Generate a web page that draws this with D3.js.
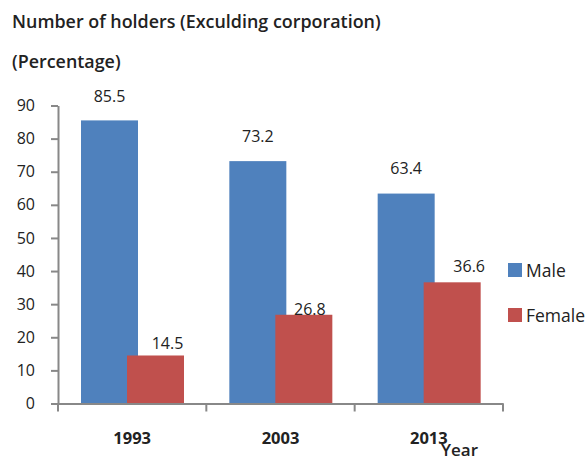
<!DOCTYPE html>
<html>
<head>
<meta charset="utf-8">
<script src="https://cdnjs.cloudflare.com/ajax/libs/d3/7.8.5/d3.min.js"></script>
<style>
  body { margin: 0; background: #fff; }
  svg text { font-family: "Open Sans", "Noto Sans", sans-serif; fill: #222; }
</style>
</head>
<body>
<svg id="canvas"></svg>
<script>
const years = ["1993", "2003", "2013"];
const seriesNames = ["Male", "Female"];
const male = [85.5, 73.2, 63.4];
const female = [14.5, 26.8, 36.6];
const yTicks = [0, 10, 20, 30, 40, 50, 60, 70, 80, 90];
const colors = ["#4F81BD", "#C0504D"];

// hand-placed label nudges (dx, dy above bar top) like the original
const labelNudge = {
  Male: [[0, 18], [0, 19], [0, 20]],
  Female: [[12, 6], [6, 0], [17, 10]],
};

const WIDTH = 587;
const HEIGHT = 457;
const PLOT_L = 58, PLOT_R = 503, PLOT_T = 105.5, PLOT_B = 403.5;
const BAR_W = 57;

const canvas = d3.select("#canvas").attr("width", WIDTH).attr("height", HEIGHT);

const xScale = d3.scaleBand().domain(years).range([PLOT_L, PLOT_R]).padding(0);
const inner = d3.scalePoint().domain(seriesNames).range([51.5, 97.5]);
const yScale = d3.scaleLinear().domain([0, 90]).range([PLOT_B, PLOT_T]);

const values = [];
years.forEach((yr, i) => {
  values.push({ year: yr, series: "Male", value: male[i], i: i });
  values.push({ year: yr, series: "Female", value: female[i], i: i });
});

// title
canvas.append("text").attr("x", 12).attr("y", 28)
  .style("font-size", "17.9px").style("font-weight", 600)
  .text("Number of holders (Exculding corporation)");
canvas.append("text").attr("x", 12).attr("y", 68)
  .style("font-size", "17.9px").style("font-weight", 600)
  .text("(Percentage)");

// bars
canvas.selectAll("rect.bar")
  .data(values)
  .enter()
  .append("rect")
  .attr("class", "bar")
  .attr("x", (d) => xScale(d.year) + inner(d.series) - BAR_W / 2)
  .attr("width", BAR_W)
  .attr("y", (d) => yScale(d.value))
  .attr("height", (d) => yScale(0) - yScale(d.value))
  .attr("fill", (d) => colors[seriesNames.indexOf(d.series)]);

// value labels
canvas.selectAll("text.val")
  .data(values)
  .enter()
  .append("text")
  .attr("class", "val")
  .attr("text-anchor", "middle")
  .style("font-size", "16px")
  .attr("x", (d) => xScale(d.year) + inner(d.series) + labelNudge[d.series][d.i][0])
  .attr("y", (d) => yScale(d.value) - labelNudge[d.series][d.i][1])
  .text((d) => d.value);

// axes
const xAxis = d3.axisBottom(xScale).tickValues([]).tickSizeOuter(0);
const gx = canvas.append("g")
  .attr("transform", "translate(0," + PLOT_B + ")")
  .call(xAxis);
gx.select(".domain").attr("stroke", "#888").attr("stroke-width", 2);
// category boundary ticks
const bounds = years.map((y) => xScale(y)).concat([PLOT_R]);
gx.selectAll("line.bound")
  .data(bounds)
  .enter()
  .append("line")
  .attr("class", "bound")
  .attr("x1", (d) => d).attr("x2", (d) => d)
  .attr("y1", 0).attr("y2", 8)
  .attr("stroke", "#888").attr("stroke-width", 2);
gx.selectAll("text.cat")
  .data(years)
  .enter()
  .append("text")
  .attr("class", "cat")
  .attr("text-anchor", "middle")
  .attr("x", (d) => xScale(d) + xScale.bandwidth() / 2)
  .attr("y", 40)
  .style("font-size", "16.5px").style("font-weight", 700)
  .text((d) => d);

const yAxis = d3.axisLeft(yScale).tickValues(yTicks).tickSize(7).tickSizeOuter(0).tickPadding(16);
const gy = canvas.append("g")
  .attr("transform", "translate(" + PLOT_L + ",0)")
  .call(yAxis);
gy.select(".domain").attr("stroke", "#888").attr("stroke-width", 2);
gy.selectAll(".tick line").attr("stroke", "#888").attr("stroke-width", 2);
gy.selectAll(".tick text")
  .style("font-size", "16px")
  .style("font-family", "'Open Sans', sans-serif")
  .attr("fill", "#222");

canvas.append("text").attr("x", 441).attr("y", 456)
  .style("font-size", "17px").style("font-weight", 600)
  .text("Year");

// legend
const legend = canvas.selectAll("g.legend")
  .data(seriesNames)
  .enter()
  .append("g")
  .attr("class", "legend")
  .attr("transform", (d, i) => "translate(508," + (263 + i * 45) + ")");
legend.append("rect").attr("width", 14).attr("height", 14)
  .attr("fill", (d, i) => colors[i]);
legend.append("text").attr("x", 18).attr("y", 14)
  .style("font-size", "17.5px")
  .text((d) => d);
</script>
</body>
</html>
